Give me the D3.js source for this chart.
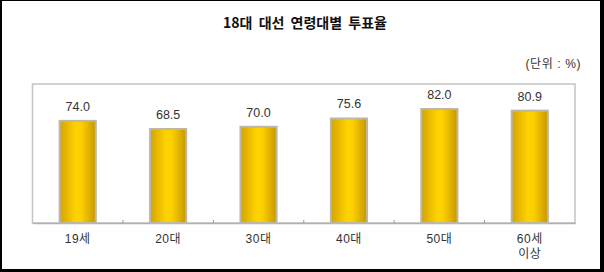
<!DOCTYPE html>
<html><head><meta charset="utf-8">
<script src="https://cdn.jsdelivr.net/npm/d3@7"></script>
<style>html,body{margin:0;padding:0;background:#fff;}svg{display:block;}</style>
</head><body>
<svg id="c" width="604" height="272"></svg>
<script>
const title = "18대 대선 연령대별 투표율";
const unitLabel = "(단위 : %)";
const categories = ["19세", "20대", "30대", "40대", "50대", "60세\n이상"];
const values = [74.0, 68.5, 70.0, 75.6, 82.0, 80.9];
const valueLabels = ["74.0", "68.5", "70.0", "75.6", "82.0", "80.9"];

const svg = d3.select("#c");
const W = 604, H = 272;
const plot = {left: 32.5, right: 575, top: 84, bottom: 223};

// outer black border
svg.append("rect").attr("x",0).attr("y",0).attr("width",W).attr("height",H).attr("fill","#000");
svg.append("rect").attr("x",2).attr("y",1).attr("width",W-6).attr("height",H-4).attr("fill","#fff");

// title
svg.append("text").attr("x",305).attr("y",28).attr("text-anchor","middle")
  .attr("font-family","'Noto Sans CJK KR', sans-serif").attr("font-weight","bold")
  .attr("font-size",14).attr("fill","#111").attr("word-spacing",3).text(title);

// unit
svg.append("text").attr("x",581).attr("y",67.5).attr("text-anchor","end")
  .attr("font-family","'Liberation Sans', 'Noto Sans CJK KR', sans-serif")
  .attr("font-size",12).attr("letter-spacing",0.6).attr("fill","#333").text(unitLabel);

const x = d3.scaleBand().domain(categories).range([plot.left, plot.right])
  .paddingInner(0.6).paddingOuter(0.3);
const y = d3.scaleLinear().domain([5, 98.9]).range([plot.bottom, plot.top]);

// gradient
const defs = svg.append("defs");
const g = defs.append("linearGradient").attr("id","gold").attr("x1","0").attr("x2","1").attr("y1","0").attr("y2","0");
[[0,"#d4a300"],[0.45,"#ffd300"],[0.6,"#fdcf00"],[1,"#c79700"]].forEach(([o,c])=>
  g.append("stop").attr("offset",o).attr("stop-color",c));

// plot frame
svg.append("rect").attr("x",plot.left).attr("y",plot.top)
  .attr("width",plot.right-plot.left).attr("height",plot.bottom-plot.top)
  .attr("fill","none").attr("stroke","#c4c4c4").attr("stroke-width",1.5);

// x axis
const step = x.step();
const ax = svg.append("g").attr("transform",`translate(0,${plot.bottom})`)
  .call(d3.axisBottom(x).tickSize(0).tickFormat(""));
ax.select(".domain").attr("stroke","#b0b0b0").attr("stroke-width",1.5);
// boundary ticks
svg.selectAll("line.bt").data(categories.slice(1)).join("line").attr("class","bt")
  .attr("x1",d=>x(d)-step*x.paddingInner()/2).attr("x2",d=>x(d)-step*x.paddingInner()/2)
  .attr("y1",plot.bottom).attr("y2",plot.bottom-3).attr("stroke","#999").attr("stroke-width",1);

// bars
svg.selectAll("rect.bar").data(values).join("rect").attr("class","bar")
  .attr("x",(d,i)=>x(categories[i])).attr("width",x.bandwidth())
  .attr("y",d=>y(d)).attr("height",d=>plot.bottom-y(d))
  .attr("fill","url(#gold)").attr("stroke","#bdb7a5").attr("stroke-width",2);

// value labels
svg.selectAll("text.val").data(values).join("text").attr("class","val")
  .attr("x",(d,i)=>x(categories[i])+x.bandwidth()/2).attr("y",d=>y(d)-10)
  .attr("text-anchor","middle").attr("font-family","'Liberation Sans', Arial, sans-serif")
  .attr("font-size",12.5).attr("fill","#333").text((d,i)=>valueLabels[i]);

// category labels
categories.forEach((c,i)=>{
  const t = svg.append("text").attr("x",x(c)+x.bandwidth()/2).attr("y",243)
    .attr("text-anchor","middle").attr("font-family","'Liberation Sans', 'Noto Sans CJK KR', sans-serif")
    .attr("font-size",12).attr("letter-spacing",0.5).attr("fill","#333");
  c.split("\n").forEach((line,j)=>{
    t.append("tspan").attr("x",x(c)+x.bandwidth()/2).attr("dy",j===0?0:15).text(line);
  });
});
</script>
</body></html>
